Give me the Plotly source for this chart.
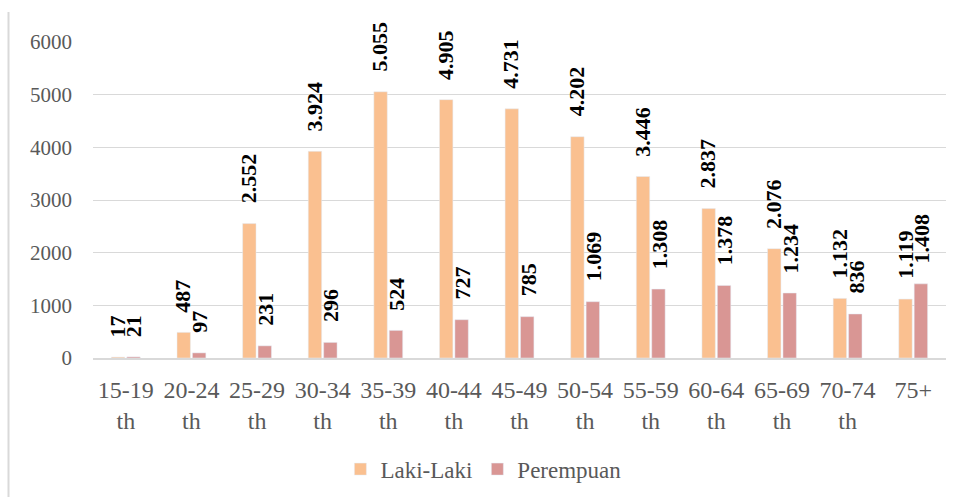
import plotly.graph_objects as go

categories = ["15-19<br>th", "20-24<br>th", "25-29<br>th", "30-34<br>th", "35-39<br>th",
              "40-44<br>th", "45-49<br>th", "50-54<br>th", "55-59<br>th", "60-64<br>th",
              "65-69<br>th", "70-74<br>th", "75+"]
laki = [17, 487, 2552, 3924, 5055, 4905, 4731, 4202, 3446, 2837, 2076, 1132, 1119]
perempuan = [21, 97, 231, 296, 524, 727, 785, 1069, 1308, 1378, 1234, 836, 1408]
y_ticks = [0, 1000, 2000, 3000, 4000, 5000, 6000]

C_LAKI = "#FAC090"
C_PER = "#D99694"
FONT = "Liberation Serif"
GRAY = "#595959"

def fmt(v):
    return f"{v:,}".replace(",", ".")

fig = go.Figure()
fig.add_trace(go.Bar(x=categories, y=laki, name="Laki-Laki", marker_color=C_LAKI))
fig.add_trace(go.Bar(x=categories, y=perempuan, name="Perempuan", marker_color=C_PER))

annotations = []
for series, shift in ((laki, -8.5), (perempuan, 8.5)):
    for c, v in zip(categories, series):
        annotations.append(dict(
            x=c, y=v, xref="x", yref="y", text=fmt(v), showarrow=False,
            textangle=-90, xshift=shift, yshift=18, yanchor="bottom", xanchor="center",
            font=dict(family=FONT, size=22, color="#000000", weight="bold"),
        ))

fig.update_layout(
    width=961, height=497,
    margin=dict(l=93, r=15, t=42, b=139),
    paper_bgcolor="white", plot_bgcolor="white",
    barmode="group", bargap=0.53, bargroupgap=0.13,
    font=dict(family=FONT, color=GRAY),
    annotations=annotations,
    legend=dict(orientation="h", xref="container", yref="container",
                x=0.503, y=0.056, xanchor="center", yanchor="middle",
                font=dict(family=FONT, size=23, color=GRAY),
                itemwidth=30, tracegroupgap=0),
)
# left border of the chart area
fig.layout.shapes = [dict(type="line", xref="paper", yref="paper",
                          x0=(8.5 - 93) / 853, x1=(8.5 - 93) / 853,
                          y0=-139 / 316, y1=1 + 30 / 316,
                          line=dict(color="#d9d9d9", width=2))]

fig.update_xaxes(showgrid=False, showline=True, linecolor="#d9d9d9", linewidth=1.5,
                 ticks="", tickfont=dict(family=FONT, size=24, color=GRAY),
                 ticklabelstandoff=9)
fig.update_yaxes(range=[0, 6000], tickvals=y_ticks, showgrid=True, gridcolor="#d9d9d9",
                 gridwidth=1, zeroline=False, showline=False, ticks="",
                 tickfont=dict(family=FONT, size=21, color=GRAY), ticklabelstandoff=20)

fig.write_html("out.html", config={"displayModeBar": False},
               post_script="document.body.style.margin='0';")
